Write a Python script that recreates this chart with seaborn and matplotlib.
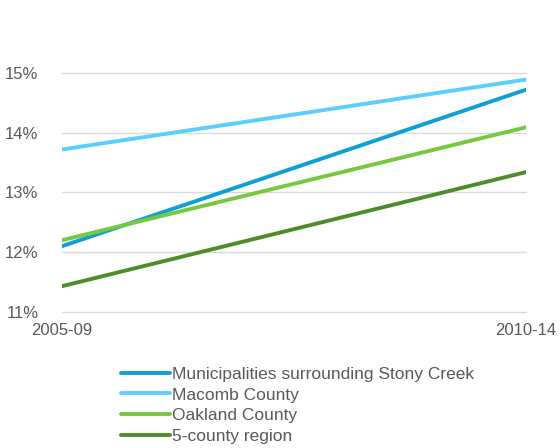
import pandas as pd
import matplotlib.pyplot as plt
import seaborn as sns
from matplotlib.ticker import FuncFormatter

# 데이터
periods = ['2005-09', '2010-14']
series_names = ['Municipalities surrounding Stony Creek', 'Macomb County',
                'Oakland County', '5-county region']
stony_creek = [12.1, 14.72]
macomb = [13.72, 14.89]
oakland = [12.2, 14.09]
five_county = [11.43, 13.34]

colors = ['#0E9FD6', '#5BCFFB', '#77C73F', '#4E8C2A']

df = pd.DataFrame({
    'period': periods * 4,
    'x': [0, 1] * 4,
    'value': stony_creek + macomb + oakland + five_county,
    'series': [s for s in series_names for _ in periods],
})

sns.set_theme(style="white")
plt.rcParams['font.family'] = ['Liberation Sans', 'DejaVu Sans']

fig = plt.figure(figsize=(5.6, 4.48), dpi=100)
ax = fig.add_axes([0.111, 0.304, 0.828, 0.533])

sns.lineplot(data=df, x='x', y='value', hue='series', hue_order=series_names,
             palette=colors, linewidth=2.8, ax=ax, legend=True)

ax.set_xlim(0, 1)
ax.set_ylim(11, 15)
ax.set_yticks([11, 12, 13, 14, 15])
ax.yaxis.set_major_formatter(FuncFormatter(lambda v, p: f'{v:.0f}%'))
ax.set_xticks([0, 1])
ax.set_xticklabels(periods)
ax.grid(axis='y', color='#D9D9D9', linewidth=1)
for gl in ax.get_ygridlines():
    gl.set_clip_on(False)
ax.set_axisbelow(True)
ax.set_xlabel('')
ax.set_ylabel('')
ax.tick_params(axis='both', length=0, labelsize=12, colors='#595959')
ax.tick_params(axis='y', pad=17)
ax.tick_params(axis='x', pad=8)
for s in ax.spines.values():
    s.set_visible(False)

# 범례
handles, labels = ax.get_legend_handles_labels()
ax.legend(handles, labels, loc='upper left', bbox_to_anchor=(0.112, -0.2),
          frameon=False, fontsize=12.5, labelcolor='#595959',
          handlelength=2.8, handletextpad=0.15, labelspacing=0.33,
          borderaxespad=0)

fig.savefig('out.png', dpi=100)
